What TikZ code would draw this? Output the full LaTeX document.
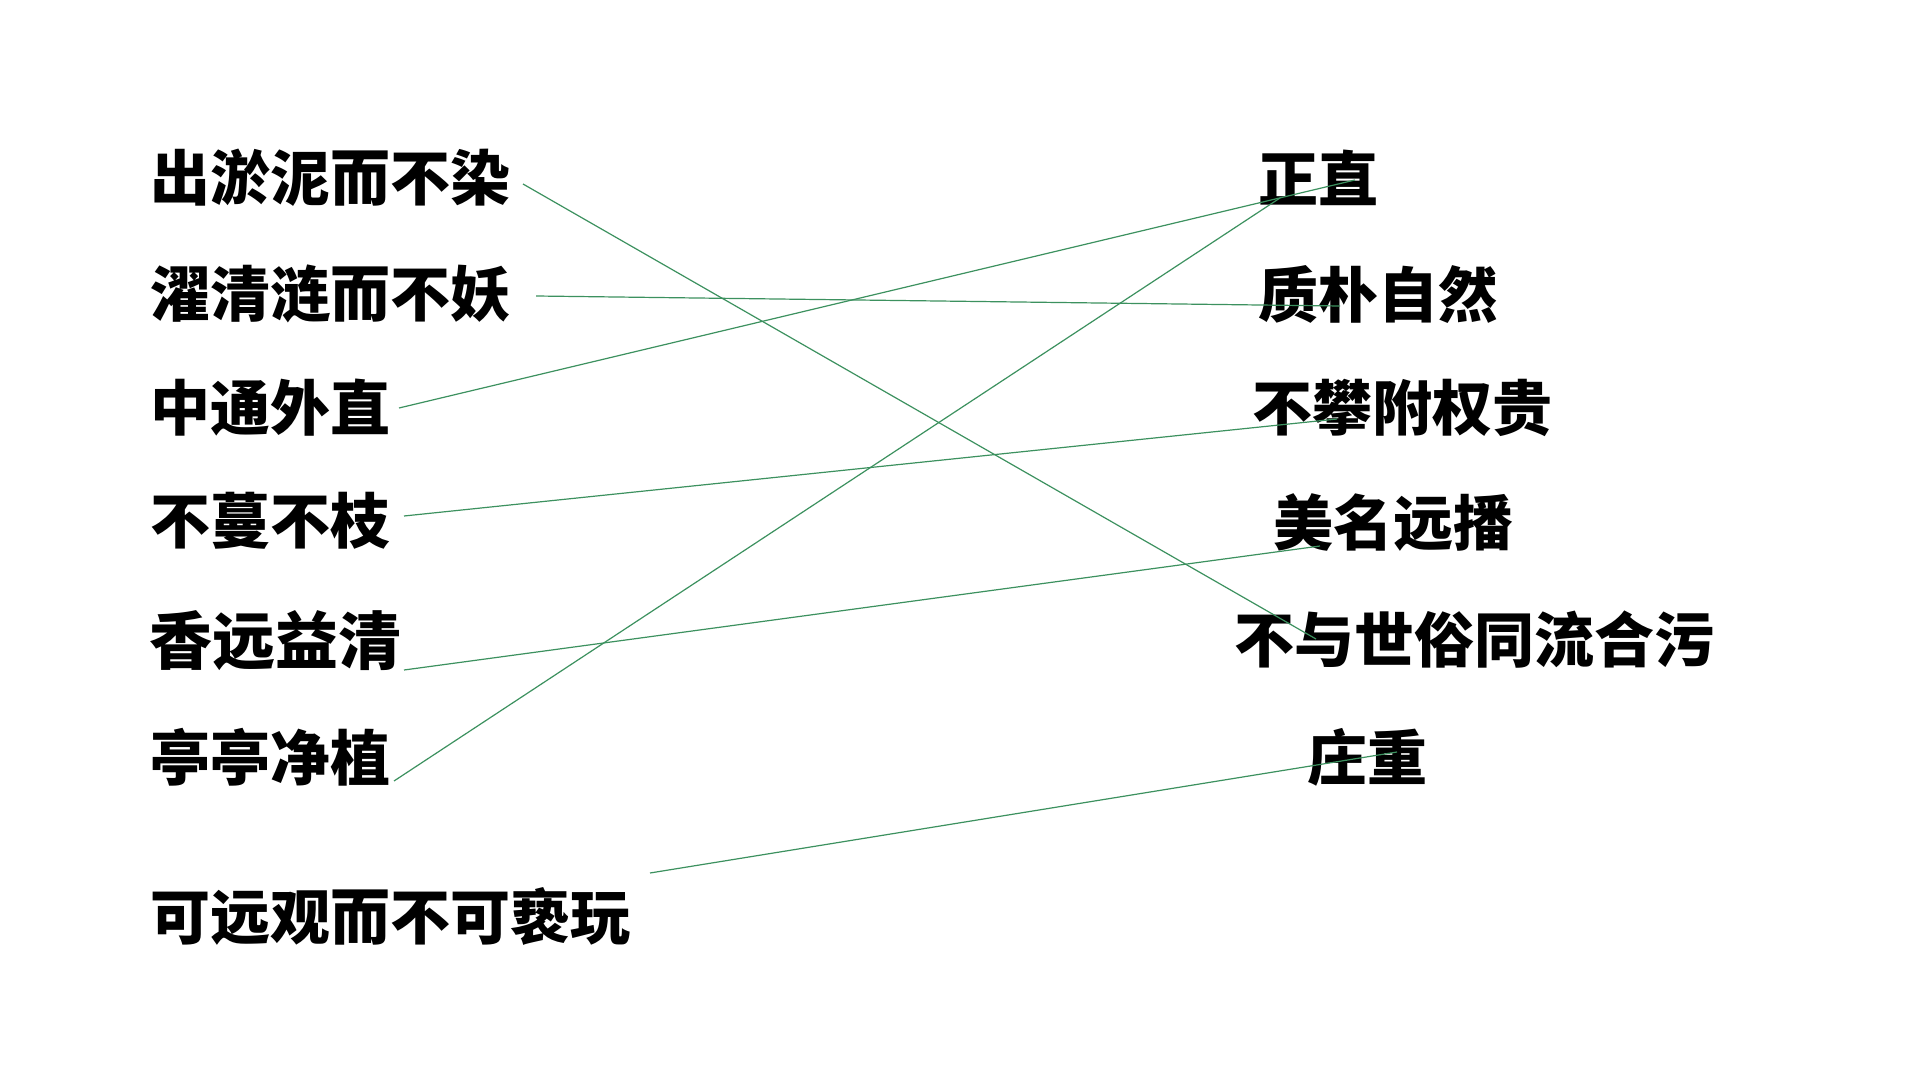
\documentclass[tikz,border=0pt]{standalone}
\usepackage{fontspec}
\newfontfamily\cjk{Noto Sans CJK SC Black}
\definecolor{linkgreen}{RGB}{60,145,95}
\begin{document}
\begin{tikzpicture}[x=0.5pt,y=-0.5pt,
  lbl/.style={anchor=west,inner sep=0pt,font=\cjk\fontsize{30pt}{30pt}\selectfont,text=black},
  link/.style={draw=linkgreen,line width=0.6pt}]
\useasboundingbox[fill=white] (0,0) rectangle (1920,1080);
% left column
\node[lbl] (L1) at (150,178) {出淤泥而不染};
\node[lbl] (L2) at (150,294) {濯清涟而不妖};
\node[lbl] (L3) at (150,408) {中通外直};
\node[lbl] (L4) at (150,521) {不蔓不枝};
\node[lbl,font=\cjk\fontsize{31.5pt}{31.5pt}\selectfont] (L5) at (149,641) {香远益清};
\node[lbl] (L6) at (150,757) {亭亭净植};
\node[lbl] (L7) at (150,916) {可远观而不可亵玩};
% right column
\node[lbl] (R1) at (1258,178) {正直};
\node[lbl] (R2) at (1258,294) {质朴自然};
\node[lbl] (R3) at (1252,408) {不攀附权贵};
\node[lbl] (R4) at (1273,523) {美名远播};
\node[lbl] (R5) at (1234,640) {不与世俗同流合污};
\node[lbl] (R6) at (1307,757) {庄重};
% connector ends
\coordinate (a1) at (523,184);  \coordinate (b1) at (1316,639);
\coordinate (a2) at (536,296);  \coordinate (b2) at (1340,306);
\coordinate (a3) at (399,408);  \coordinate (b3) at (1355,180);
\coordinate (a4) at (394,781);  \coordinate (b4) at (1280,198);
\coordinate (a5) at (404,516);  \coordinate (b5) at (1337,419);
\coordinate (a6) at (404,670);  \coordinate (b6) at (1320,546);
\coordinate (a7) at (650,873);  \coordinate (b7) at (1397,752);
\draw[link] (a1) -- (b1);
\draw[link] (a2) -- (b2);
\draw[link] (a3) -- (b3);
\draw[link] (a4) -- (b4);
\draw[link] (a5) -- (b5);
\draw[link] (a6) -- (b6);
\draw[link] (a7) -- (b7);
\end{tikzpicture}
\end{document}
